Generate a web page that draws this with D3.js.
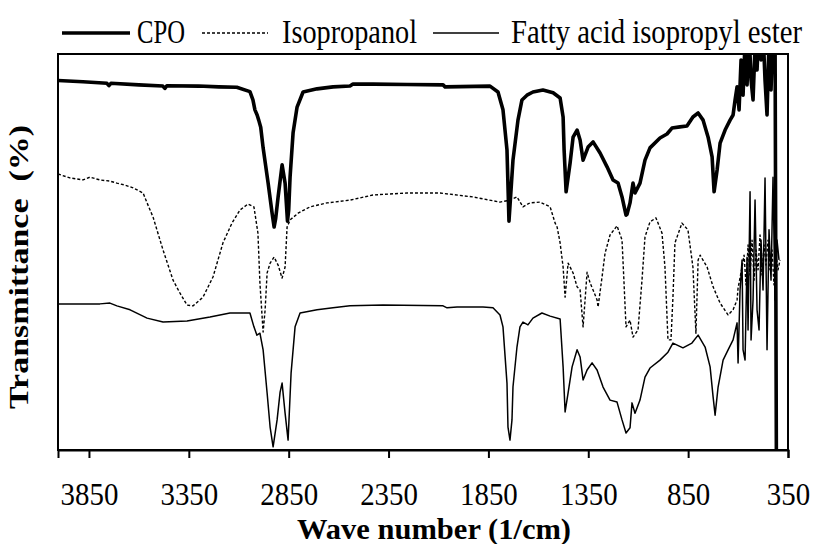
<!DOCTYPE html>
<html><head><meta charset="utf-8">
<script src="https://cdn.jsdelivr.net/npm/d3@7/dist/d3.min.js"></script>
<style>body{margin:0;background:#fff}svg{display:block}</style>
</head><body>
<svg id="c" width="818" height="544"></svg>
<script>
// ---- data (wave number in 1/cm, transmittance in arbitrary % units) ----
const seriesNames = ["CPO", "Isopropanol", "Fatty acid isopropyl ester"];
const xTicks = [3850, 3350, 2850, 2350, 1850, 1350, 850, 350];

const cpo = [
[4005,93.3],[3880,93.0],[3760,92.6],[3750,92.0],[3740,92.6],[3600,92.2],[3480,91.9],[3470,91.3],[3460,92.0],[3300,91.9],[3200,91.7],[3110,91.6],
[3044,90.5],[3029,88.4],[3019,85.9],[3008,84.6],[3000,83.3],[2990,81.5],[2978,76.3],[2953,67.4],[2933,59.8],[2923,56.3],[2915,58.5],[2903,63.9],[2883,72.0],
[2868,67.4],[2856,57.8],[2850,60.5],[2843,69.0],[2828,80.1],[2808,86.6],[2778,90.4],[2708,91.2],[2628,91.7],[2543,91.9],[2528,92.4],[2428,92.4],
[2257,92.3],[2077,92.2],[2067,91.7],[1842,91.9],[1802,90.4],[1777,85.9],[1757,75.8],[1747,57.8],[1727,73.2],[1702,83.3],[1682,88.4],[1657,89.6],
[1627,90.4],[1577,90.9],[1526,90.2],[1491,88.9],[1476,84.1],[1471,75.8],[1461,65.2],[1441,72.5],[1426,79.0],[1406,80.8],[1391,78.3],[1376,73.2],
[1351,76.5],[1326,77.8],[1291,75.0],[1256,71.5],[1226,68.2],[1201,67.4],[1181,63.9],[1161,59.3],[1156,59.5],[1141,62.4],[1126,67.4],[1116,64.9],
[1091,67.4],[1066,73.2],[1041,76.3],[991,78.8],[956,79.8],[931,81.3],[891,81.6],[856,81.8],[826,84.1],[800,85.1],[775,83.3],[750,79.0],[730,74.0],
[720,65.2],[705,70.7],[690,77.5],[665,80.8],[640,83.3],[625,84.6],[615,88.4],[605,91.7],[595,85.9],[585,98.5],[575,89.6],[565,103.5],[555,92.2],
[545,106],[535,93.4],[525,88.4],[515,102],[505,96],[495,108],[485,98.5],[475,106],[465,93.4],[455,84.6],[445,103.5],[435,90.9],[425,106],[415,108],[408,-5]
];

const isopropanol = [
[4005,69.7],[3945,68.7],[3880,68.2],[3845,68.9],[3795,68.2],[3745,67.9],[3710,67.4],[3670,66.9],[3629,66.2],[3579,64.9],[3559,62.4],[3529,58.8],
[3479,50.5],[3429,42.9],[3394,39.6],[3359,36.6],[3329,36.4],[3279,38.6],[3229,43.7],[3179,52.3],[3134,57.3],[3094,60.6],[3054,62.1],[3024,61.4],
[3004,54.8],[2994,42.2],[2978,29.8],[2968,35.4],[2958,44.7],[2943,47.2],[2923,48.7],[2903,46.7],[2883,43.4],[2868,46.2],[2858,56.3],[2843,58.1],
[2803,59.8],[2743,61.4],[2658,62.4],[2543,63.1],[2428,64.4],[2257,64.9],[2092,64.9],[1927,63.9],[1792,62.6],[1742,63.1],[1707,63.9],[1677,61.4],
[1642,62.4],[1592,62.6],[1541,61.4],[1516,57.3],[1506,56.3],[1491,52.3],[1476,46.2],[1466,38.6],[1451,47.2],[1426,44.7],[1406,41.2],[1391,40.4],
[1376,31.1],[1366,37.9],[1356,44.9],[1341,42.2],[1326,40.4],[1306,37.9],[1301,36.1],[1281,43.7],[1266,49.7],[1241,54.3],[1206,56.6],[1181,53.0],
[1171,42.2],[1161,31.1],[1141,32.8],[1126,28.5],[1101,30.3],[1081,42.9],[1066,53.8],[1041,57.6],[1011,58.6],[981,54.8],[966,46.2],[951,27.8],
[936,27.8],[926,38.6],[916,52.3],[881,57.3],[851,55.6],[826,46.2],[811,29.5],[800,48.0],[790,49.2],[755,46.2],[725,41.2],[690,37.1],[650,34.1],
[625,35.4],[605,37.9],[600,40.9],[580,46.2],[570,49.2],[560,41.7],[550,51.8],[540,44.2],[530,53.0],[520,42.9],[510,50.5],[500,45.5],[490,54.3],
[480,44.2],[470,51.8],[460,46.7],[450,53.0],[440,45.5],[430,50.5],[420,41.7],[410,49.2],[400,45.5],[390,48.0]
];

const ester = [
[4005,36.9],[3795,36.9],[3745,37.1],[3710,36.4],[3644,35.4],[3559,33.3],[3479,32.3],[3359,32.6],[3244,33.6],[3144,34.6],[3044,34.6],[3024,31.1],
[3009,29.0],[2994,29.5],[2978,25.3],[2958,14.4],[2943,5.8],[2928,0.8],[2908,7.6],[2893,14.6],[2883,16.9],[2868,9.3],[2853,2.5],[2838,19.4],
[2818,31.1],[2793,34.6],[2708,35.4],[2628,35.9],[2543,36.4],[2378,36.6],[2077,36.4],[2057,35.9],[2007,36.1],[1877,36.1],[1827,35.9],[1792,34.1],
[1777,31.1],[1757,16.9],[1752,5.8],[1742,2.5],[1732,7.6],[1727,15.9],[1707,26.0],[1692,31.1],[1677,32.3],[1652,31.6],[1627,33.3],[1582,34.6],
[1541,33.8],[1491,33.1],[1476,21.0],[1466,9.6],[1451,14.4],[1431,21.0],[1406,25.3],[1391,23.5],[1376,17.7],[1356,20.2],[1331,22.0],[1306,20.2],
[1276,15.9],[1241,12.6],[1206,12.1],[1181,7.6],[1161,4.3],[1141,5.6],[1131,11.9],[1116,9.3],[1091,12.6],[1066,18.4],[1041,20.7],[991,22.7],
[951,24.7],[926,27.0],[876,25.8],[831,27.0],[800,29.0],[765,26.0],[740,21.0],[725,13.4],[715,8.8],[700,15.9],[675,22.7],[650,25.3],[625,27.8],
[605,32.1],[600,22.0],[590,40.4],[580,48.0],[575,25.3],[565,22.7],[555,48.7],[550,30.3],[540,65.2],[535,27.8],[525,37.9],[515,63.1],[505,35.4],
[495,30.3],[485,53.0],[475,40.4],[465,68.7],[455,25.3],[445,55.6],[435,42.9],[425,68.9],[415,37.9],[405,53.0],[395,48.0]
];

// ---- layout ----
const FONT = "Liberation Serif, serif";
const svg = d3.select("#c");
const L = 58, R = 788, T = 54, B = 450;
const x = d3.scaleLinear().domain([4005, 350]).range([L, R]);
const y = d3.scaleLinear().domain([0, 100]).range([B, T]);

svg.append("defs").append("clipPath").attr("id", "clip")
  .append("rect").attr("x", L).attr("y", T).attr("width", R - L).attr("height", B - T);

const line = d3.line().x(d => x(d[0])).y(d => y(d[1]));
const plot = svg.append("g").attr("clip-path", "url(#clip)");

const styles = [
  {w: 3.6, dash: null},
  {w: 1.4, dash: "3,2"},
  {w: 1.5, dash: null}
];
const allSeries = [cpo, isopropanol, ester];
allSeries.forEach((s, i) => {
  plot.append("path").datum(s).attr("d", line)
    .attr("fill", "none").attr("stroke", "#000")
    .attr("stroke-width", styles[i].w)
    .attr("stroke-linejoin", "round")
    .attr("stroke-dasharray", styles[i].dash);
});

// frame
svg.append("rect").attr("x", L).attr("y", T).attr("width", R - L).attr("height", B - T)
  .attr("fill", "none").attr("stroke", "#000").attr("stroke-width", 2);

// x axis
const ax = svg.append("g").attr("transform", `translate(0,${B})`)
  .call(d3.axisBottom(x).tickValues(xTicks).tickSize(8).tickFormat(d => d));
ax.select(".domain").attr("stroke-width", 2);
ax.selectAll(".tick line").attr("stroke-width", 2);
ax.selectAll(".tick text")
  .attr("font-family", FONT).attr("font-size", 27).attr("fill", "#000")
  .attr("y", 45.8).attr("dy", 0)
  .attr("transform", "scale(1.07,1.2)");

svg.append("text").attr("transform", `translate(434,539) scale(1,1.12)`)
  .attr("text-anchor", "middle")
  .attr("font-family", FONT).attr("font-weight", "bold").attr("font-size", 26)
  .attr("textLength", 274).attr("lengthAdjust", "spacingAndGlyphs")
  .text("Wave number (1/cm)");

svg.append("text").attr("transform", `translate(28,267) rotate(-90)`)
  .attr("text-anchor", "middle")
  .attr("font-family", FONT).attr("font-weight", "bold").attr("font-size", 27)
  .attr("textLength", 284).attr("lengthAdjust", "spacingAndGlyphs")
  .attr("xml:space", "preserve")
  .text("Transmittance  (%)");

// legend
const legendPos = [
  {x1: 62, x2: 130, tx: 137, w: 48},
  {x1: 202, x2: 268, tx: 282, w: 135},
  {x1: 433, x2: 499, tx: 511, w: 291}
];
const ly = 33;
seriesNames.forEach((n, i) => {
  const p = legendPos[i];
  svg.append("line").attr("x1", p.x1).attr("x2", p.x2).attr("y1", ly).attr("y2", ly)
    .attr("stroke", "#000").attr("stroke-width", styles[i].w)
    .attr("stroke-dasharray", styles[i].dash);
  svg.append("text").attr("transform", `translate(${p.tx},${ly + 10}) scale(1,1.2)`)
    .attr("font-family", FONT).attr("font-size", 28)
    .attr("textLength", p.w).attr("lengthAdjust", "spacingAndGlyphs")
    .text(n);
});
</script>
</body></html>
